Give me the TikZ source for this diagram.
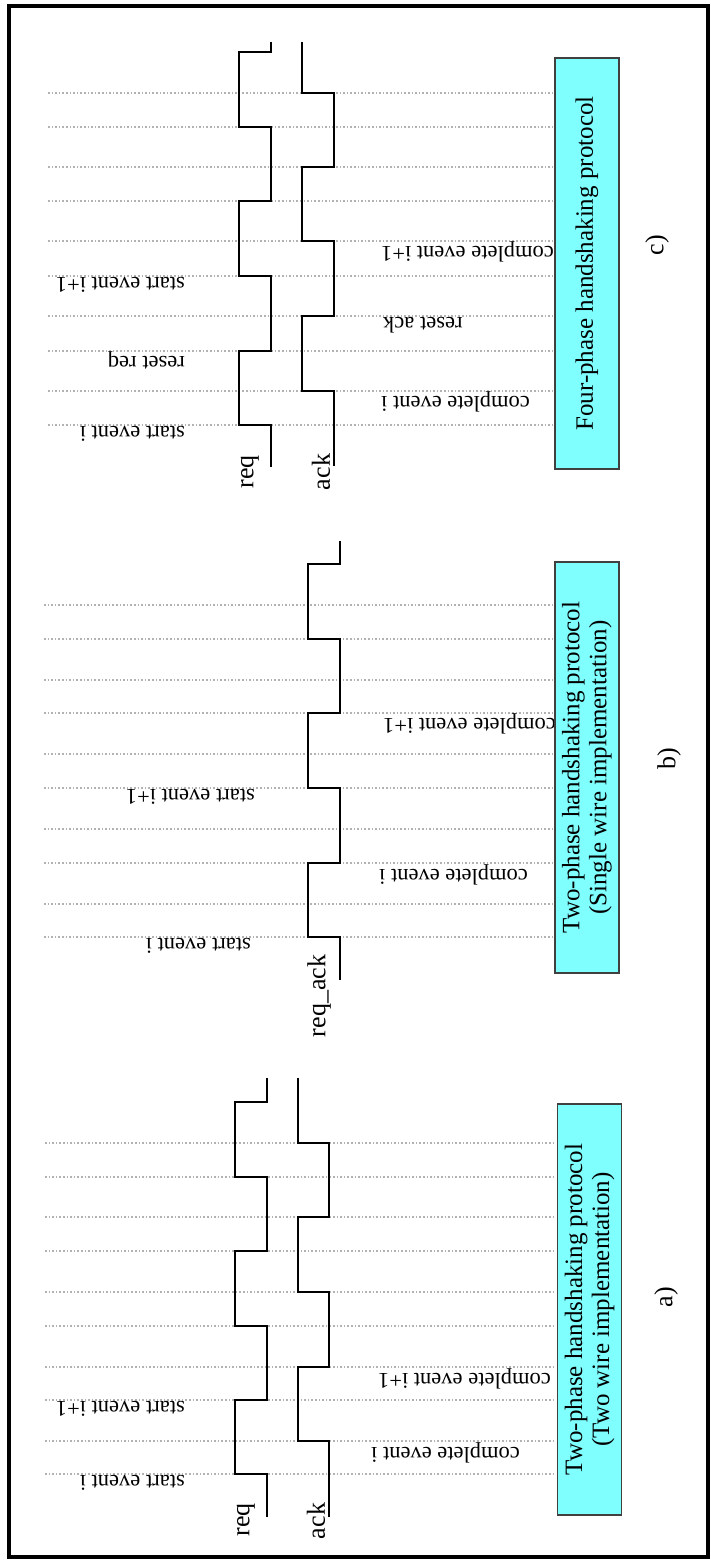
\documentclass[tikz,border=0pt]{standalone}
\usepackage{fontspec}
\setmainfont{Liberation Serif}
\usepackage{xcolor}
\usepackage{tikz}
\usetikzlibrary{positioning}
\definecolor{titlecyan}{HTML}{80FFFF}

\begin{document}
\begin{tikzpicture}[
    x=1pt, y=-1pt,
    wire/.style={draw=black, line width=2.8pt, line join=miter},
    grid_line/.style={draw=gray!60, line width=1.5pt, dash pattern=on 1.5pt off 2.1pt},
    title_box/.style={draw=black!75, line width=1.3pt, fill=titlecyan, rotate=90,
        minimum width=411pt, minimum height=64pt, inner sep=0pt, align=center,
        font=\fontsize{25}{27}\selectfont},
    event_lbl/.style={rotate=180, inner sep=1pt, font=\fontsize{22.5}{24}\selectfont},
    sig_lbl/.style={rotate=90, inner sep=0pt, font=\fontsize{26}{28}\selectfont},
    panel_lbl/.style={rotate=90, inner sep=0pt, font=\fontsize{26}{28}\selectfont}
]
\useasboundingbox (0,0) rectangle (710,1560);
\draw[line width=3.5pt] (9,6) rectangle (708,1557);

% c) four-phase
\foreach \y in {93,127,167,201,241,276,316,351,391,425}
    \draw[grid_line] (48,\y) -- (553,\y);
\draw[wire] (271,467) -- (271,425) -- (239,425) -- (239,351) -- (271,351) -- (271,276)
    -- (239,276) -- (239,201) -- (271,201) -- (271,127) -- (239,127) -- (239,52)
    -- (271,52) -- (271,42);
\draw[wire] (334,466) -- (334,391) -- (302,391) -- (302,316) -- (334,316) -- (334,241)
    -- (302,241) -- (302,167) -- (334,167) -- (334,93) -- (302,93) -- (302,42);
\node (cReq) [sig_lbl] at (250,472) {req};
\node (cAck) [sig_lbl] at (321,472) {ack};
\node (cStartI)   [event_lbl, anchor=south west] at (186,425) {start event i};
\node (cResetReq) [event_lbl, anchor=south west] at (186,351) {reset req};
\node (cStartI1)  [event_lbl, anchor=south west] at (186,276) {start event i+1};
\node (cCompI)    [event_lbl, anchor=south east] at (380,391) {complete event i};
\node (cResetAck) [event_lbl, anchor=south east] at (382,316) {reset ack};
\node (cCompI1)   [event_lbl, anchor=south east] at (380,241) {complete event i+1};
\node (cTitle) [title_box] at (587,263.5) {Four-phase handshaking protocol};
\node (cPanel) [panel_lbl] at (657,245) {c)};

% b) two-phase, single wire
\foreach \y in {605,639,680,713,754,788,829,863,904,937}
    \draw[grid_line] (44,\y) -- (553,\y);
\draw[wire] (340,980) -- (340,937) -- (308,937) -- (308,863) -- (340,863) -- (340,788)
    -- (308,788) -- (308,713) -- (340,713) -- (340,639) -- (308,639) -- (308,564)
    -- (340,564) -- (340,541);
\node (bReqAck) [sig_lbl] at (319,996) {req\_ack};
\node (bStartI)  [event_lbl, anchor=south west] at (252,937) {start event i};
\node (bStartI1) [event_lbl, anchor=south west] at (256,788) {start event i+1};
\node (bCompI)   [event_lbl, anchor=south east] at (378,863) {complete event i};
\node (bCompI1)  [event_lbl, anchor=south east] at (382,713) {complete event i+1};
\node (bTitle) [title_box] at (587,767.5)
    {Two-phase handshaking protocol\\(Single wire implementation)};
\node (bPanel) [panel_lbl] at (669,759) {b)};

% a) two-phase, two wires
\foreach \y in {1143,1177,1217,1251,1292,1326,1367,1400,1441,1474}
    \draw[grid_line] (45,\y) -- (556,\y);
\draw[wire] (267,1517) -- (267,1474) -- (235,1474) -- (235,1400) -- (267,1400) -- (267,1326)
    -- (235,1326) -- (235,1251) -- (267,1251) -- (267,1177) -- (235,1177) -- (235,1102)
    -- (267,1102) -- (267,1078);
\draw[wire] (329,1517) -- (329,1441) -- (298,1441) -- (298,1367) -- (329,1367) -- (329,1292)
    -- (298,1292) -- (298,1217) -- (329,1217) -- (329,1143) -- (298,1143) -- (298,1078);
\node (aReq) [sig_lbl] at (246,1520) {req};
\node (aAck) [sig_lbl] at (316,1521) {ack};
\node (aStartI)  [event_lbl, anchor=south west] at (186,1474) {start event i};
\node (aStartI1) [event_lbl, anchor=south west] at (186,1400) {start event i+1};
\node (aCompI)   [event_lbl, anchor=south east] at (370,1441) {complete event i};
\node (aCompI1)  [event_lbl, anchor=south east] at (377,1367) {complete event i+1};
\node (aTitle) [title_box] at (589.5,1309.5)
    {Two-phase handshaking protocol\\(Two wire implementation)};
\node (aPanel) [panel_lbl] at (666,1297) {a)};

\end{tikzpicture}
\end{document}
